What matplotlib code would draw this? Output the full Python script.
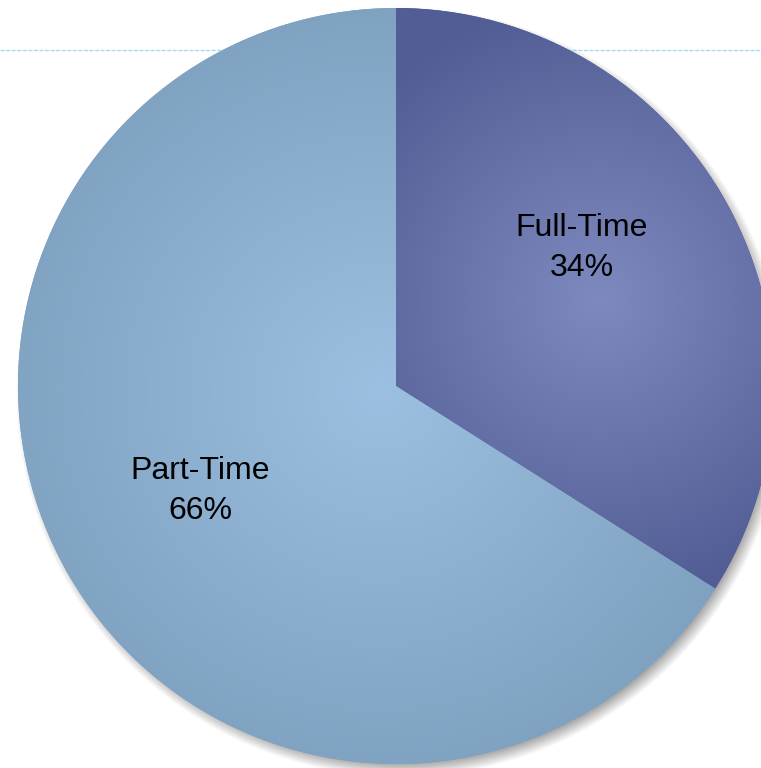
import numpy as np
import matplotlib.pyplot as plt
from matplotlib.colors import to_rgb

plt.rcParams['font.family'] = ['Liberation Sans', 'DejaVu Sans']

labels = ['Full-Time', 'Part-Time']
values = [34, 66]
edge_colors = ['#515d94', '#7fa1c0']
mid_colors = ['#7e8abf', '#9cc0e1']

W, H = 761, 768
cx, cy = 396, H - 386
R = 378


def radial(shape_xy, c0, c1, center, rad):
    X, Y = shape_xy
    d = np.clip(np.hypot(X - center[0], Y - center[1]) / rad, 0, 1)[..., None]
    a = np.array(to_rgb(c0))
    b = np.array(to_rgb(c1))
    return a * (1 - d) + b * d


def main():
    fig = plt.figure(figsize=(W / 100, H / 100), dpi=100)
    ax = fig.add_axes([0, 0, 1, 1])

    # faint dashed rule behind the pie
    ax.axhline(H - 50, color='#a8dcec', lw=1, ls=(0, (3, 1)), zorder=0)

    xs = np.arange(0, W, 1.0) + 0.5
    ys = np.arange(0, H, 1.0) + 0.5
    X, Y = np.meshgrid(xs, ys)

    # soft shadow
    d = np.hypot(X - (cx + 5), Y - (cy - 6))
    alpha = np.clip((R + 7 - d) / 16, 0, 1) * 0.6
    sh = np.zeros((H, W, 4))
    sh[..., :3] = 0.35
    sh[..., 3] = alpha
    ax.imshow(sh, extent=(0, W, 0, H), origin='lower', zorder=1, interpolation='bilinear')

    wedges, _ = ax.pie(values, colors=edge_colors, startangle=90, counterclock=False,
                       radius=R, center=(cx, cy), wedgeprops=dict(linewidth=0, zorder=2))

    # radial gradient fill for each slice
    g_centers = [(600, H - 300), (380, H - 390)]
    g_rad = [300, 400]
    for w, c0, c1, gc, gr in zip(wedges, mid_colors, edge_colors, g_centers, g_rad):
        img = radial((X, Y), c0, c1, gc, gr)
        im = ax.imshow(img, extent=(0, W, 0, H), origin='lower', zorder=3, interpolation='bilinear')
        im.set_clip_path(w)

    # slice labels
    pos = [(582, H - 248), (200, H - 491)]
    for lab, v, p in zip(labels, values, pos):
        ax.text(p[0], p[1], '%s\n%d%%' % (lab, v), ha='center', va='center',
                fontsize=23, color='black', linespacing=1.4, zorder=5)

    ax.set_xlim(0, W)
    ax.set_ylim(0, H)
    ax.set_aspect('auto')
    ax.axis('off')
    fig.savefig('out.png', dpi=100)


if __name__ == '__main__':
    main()
